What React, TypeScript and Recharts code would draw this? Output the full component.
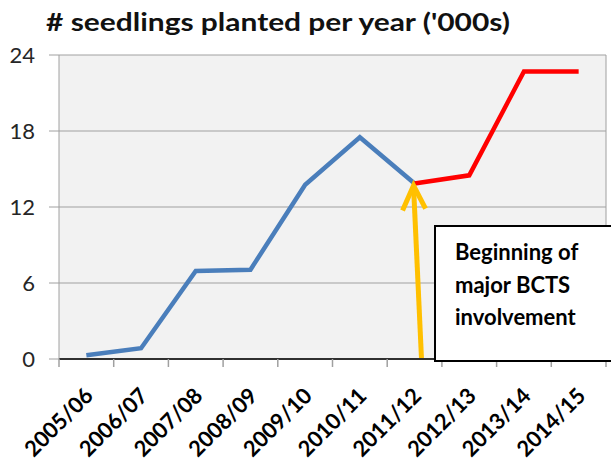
import { LineChart, Line, XAxis, YAxis, CartesianGrid, ReferenceLine } from 'recharts';

const years = ['2005/06', '2006/07', '2007/08', '2008/09', '2009/10', '2010/11', '2011/12', '2012/13', '2013/14', '2014/15'];
const beforeBcts = [0.3, 0.85, 6.95, 7.05, 13.75, 17.5, 13.85, null, null, null];
const withBcts = [null, null, null, null, null, null, 13.85, 14.5, 22.7, 22.7];
const yTicks = [0, 6, 12, 18, 24];
const startYear = '2011/12';

const data = years.map((label, i) => ({ x: i, label, before: beforeBcts[i], bcts: withBcts[i] }));
// tick marks sit on the category boundaries, labels on the centres
const xTicks = years.flatMap((_, i) => [i - 0.5, i]).concat(years.length - 0.5);
const startIdx = years.indexOf(startYear);

const FONT = 'Lato, "Open Sans", sans-serif';

function YearTick({ x, y, payload }: any) {
  const v = payload.value;
  if (!Number.isInteger(v)) {
    return <line x1={x} y1={y} x2={x} y2={y + 8} stroke="#A0A0A0" strokeWidth={1.5} />;
  }
  const tx = x - 3;
  const ty = y + 27;
  return (
    <text
      x={tx}
      y={ty}
      dy="0.72em"
      transform={`rotate(-45 ${tx} ${ty})`}
      textAnchor="end"
      fontFamily={FONT}
      fontWeight="bold"
      fontSize={22}
      textLength={86}
      lengthAdjust="spacingAndGlyphs"
      fill="#000"
    >
      {years[v]}
    </text>
  );
}

function Arrow(props: any) {
  const { x1, y1, x2, y2 } = props;
  const tipX = y1 < y2 ? x1 : x2;
  const tipY = Math.min(y1, y2);
  const baseX = y1 < y2 ? x2 : x1;
  const baseY = Math.max(y1, y2);
  return (
    <g stroke="#FFC000" strokeWidth={5} fill="none">
      <line x1={baseX + 7} y1={baseY + 1} x2={tipX - 1} y2={tipY + 3} />
      <polyline points={`${tipX - 12},${tipY + 27} ${tipX - 1},${tipY + 2} ${tipX + 11},${tipY + 25}`} />
    </g>
  );
}

export default function App() {
  return (
    <div style={{ position: 'fixed', left: 0, top: 0, width: 611, height: 464, background: '#fff' }}>
      <LineChart width={611} height={464} data={data} margin={{ top: 55, right: 0, bottom: 0, left: 0 }}>
        <CartesianGrid vertical={false} stroke="#A0A0A0" fill="#F2F2F2" fillOpacity={1} />
        <XAxis
          dataKey="x"
          type="number"
          domain={[-0.5, years.length - 0.5]}
          ticks={xTicks}
          interval={0}
          height={105}
          tickSize={0}
          tickMargin={0}
          tickLine={false}
          tick={<YearTick />}
          axisLine={{ stroke: '#303030', strokeWidth: 2 }}
        />
        <YAxis
          width={59}
          domain={[0, 24]}
          ticks={yTicks}
          interval={0}
          tickSize={10}
          tickMargin={14}
          tickLine={{ stroke: '#A0A0A0' }}
          axisLine={{ stroke: '#A0A0A0' }}
          tick={{ fontFamily: FONT, fontSize: 22, fill: '#262626' }}
        />
        <YAxis
          yAxisId="frame"
          orientation="right"
          width={5}
          domain={[0, 24]}
          tick={false}
          tickLine={false}
          axisLine={{ stroke: '#A0A0A0' }}
        />
        <Line type="linear" dataKey="before" stroke="#4A7EBB" strokeWidth={4.5} dot={false} isAnimationActive={false} />
        <Line type="linear" dataKey="bcts" stroke="#FF0000" strokeWidth={4.5} dot={false} isAnimationActive={false} />
        <ReferenceLine
          segment={[{ x: startIdx, y: 0 }, { x: startIdx, y: beforeBcts[startIdx] as number }]}
          shape={<Arrow />}
        />
      </LineChart>
      <svg width={611} height={464} style={{ position: 'absolute', left: 0, top: 0, pointerEvents: 'none' }}>
        <text
          x={46}
          y={31}
          fontFamily={FONT}
          fontWeight="bold"
          fontSize={25}
          textLength={464}
          lengthAdjust="spacingAndGlyphs"
          fill="#111"
        >
          # seedlings planted per year ('000s)
        </text>
        <rect x={435} y={226} width={200} height={135} fill="#fff" stroke="#000" strokeWidth={2} />
        <g fontFamily={FONT} fontWeight="bold" fontSize={22} fill="#000">
          <text x={455} y={260}>Beginning of</text>
          <text x={455} y={292.5}>major BCTS</text>
          <text x={455} y={325}>involvement</text>
        </g>
      </svg>
    </div>
  );
}
